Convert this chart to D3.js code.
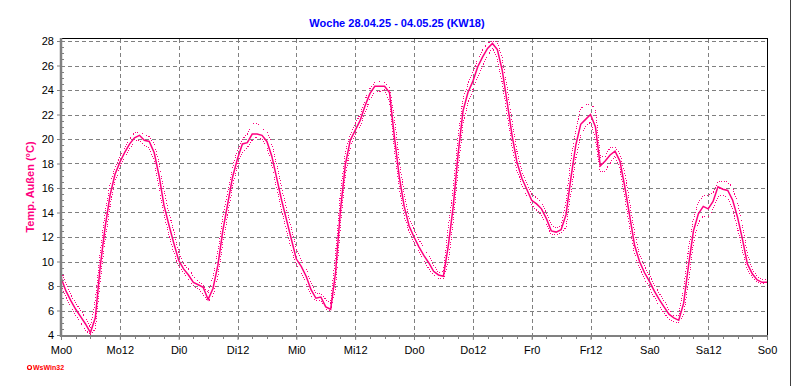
<!DOCTYPE html>
<html>
<head>
<meta charset="utf-8">
<script src="https://cdn.jsdelivr.net/npm/d3@7"></script>
<style>
  body { margin: 0; background: #fff; }
  svg { display: block; font-family: Arial, 'Liberation Sans', sans-serif; }
</style>
</head>
<body>
<div id="chart"></div>
<script>
// hourly values, Mo 0:00 .. So 0:00
const hours = d3.range(0, 145)

const tempMean = [
  8.7, 7.6, 6.8, 6.1, 5.5, 4.9, 4.2, 5.4, 9.6, 12.8, 15.4, 17.1, 18.1, 18.9, 19.6, 20.1, 20.3, 19.9, 19.8, 18.9, 17.0, 14.6, 13.0, 11.5,
  10.1, 9.4, 8.9, 8.3, 8.1, 7.9, 6.9, 7.8, 9.7, 12.5, 14.7, 16.9, 18.4, 19.6, 19.7, 20.4, 20.4, 20.3, 19.8, 18.6, 16.8, 15.0, 13.4, 11.8,
  10.2, 9.6, 8.8, 7.7, 7.0, 7.1, 6.3, 6.1, 9.1, 14.2, 17.9, 19.9, 20.7, 21.5, 22.7, 23.7, 24.3, 24.3, 24.3, 23.8, 20.2, 16.9, 14.5, 12.9,
  12.0, 11.2, 10.5, 9.9, 9.2, 8.9, 8.8, 11.3, 14.5, 18.8, 22.3, 23.8, 24.7, 25.9, 26.7, 27.4, 27.8, 27.3, 25.6, 23.0, 20.3, 18.1, 16.8, 15.9,
  15.0, 14.7, 14.3, 13.5, 12.5, 12.4, 12.6, 13.8, 16.8, 19.5, 21.2, 21.6, 22.0, 21.0, 17.8, 18.2, 18.7, 19.0, 18.2, 16.1, 13.7, 11.3, 10.0, 9.1,
  8.4, 7.6, 6.9, 6.3, 5.7, 5.4, 5.2, 6.6, 9.7, 12.5, 13.9, 14.5, 14.3, 14.9, 16.1, 15.9, 15.8, 15.0, 13.6, 11.8, 9.8, 9.0, 8.5, 8.3,
  8.3
]

const tempMax = [
  9.3, 8.2, 7.3, 6.6, 6.0, 5.4, 4.6, 6.8, 10.8, 13.9, 16.3, 17.7, 18.5, 19.3, 20.0, 20.5, 20.6, 20.3, 20.2, 19.6, 18.0, 15.8, 14.0, 12.5,
  10.8, 9.8, 9.4, 8.8, 8.4, 8.1, 7.4, 8.8, 10.8, 13.6, 15.7, 17.7, 19.1, 20.0, 20.4, 21.2, 21.3, 20.9, 20.6, 19.6, 17.9, 16.0, 14.3, 12.7,
  11.0, 10.1, 9.4, 8.3, 7.4, 7.4, 6.9, 6.6, 10.6, 15.6, 18.9, 20.4, 21.2, 22.0, 23.2, 24.1, 24.6, 24.7, 24.6, 24.2, 21.8, 18.2, 15.5, 13.6,
  12.6, 11.8, 11.1, 10.5, 9.7, 9.1, 9.2, 12.8, 16.0, 20.2, 23.3, 24.5, 25.4, 26.5, 27.3, 27.8, 28.0, 27.9, 26.6, 24.2, 21.5, 19.0, 17.4, 16.4,
  15.5, 15.2, 14.8, 14.0, 13.0, 12.7, 12.9, 14.8, 18.3, 20.7, 22.5, 22.8, 22.8, 22.5, 18.5, 18.6, 19.3, 19.3, 18.8, 17.2, 14.8, 12.3, 10.6, 9.6,
  8.9, 8.1, 7.4, 6.8, 6.1, 5.6, 5.6, 7.9, 11.0, 13.5, 14.8, 15.4, 15.4, 15.6, 16.5, 16.5, 16.5, 16.0, 14.8, 13.0, 10.6, 9.4, 8.8, 8.5,
  8.5
]

const tempMin = [
  8.2, 7.1, 6.3, 5.6, 5.0, 4.4, 4.0, 4.5, 8.4, 11.8, 14.5, 16.5, 17.7, 18.5, 19.2, 19.8, 19.9, 19.5, 19.3, 18.2, 16.0, 13.8, 12.2, 10.7,
  9.6, 9.1, 8.5, 8.0, 7.8, 7.3, 6.7, 7.2, 8.8, 11.5, 13.8, 16.1, 17.9, 18.9, 19.3, 19.9, 20.2, 20.0, 19.3, 17.9, 16.0, 14.2, 12.6, 11.0,
  9.7, 9.1, 8.3, 7.2, 6.8, 6.8, 6.1, 6.0, 7.9, 12.9, 17.0, 19.3, 20.3, 21.0, 22.2, 23.2, 23.9, 23.9, 24.0, 23.1, 19.2, 16.0, 13.7, 12.4,
  11.6, 10.8, 10.1, 9.4, 8.9, 8.6, 8.6, 10.0, 13.2, 17.5, 21.2, 23.0, 24.0, 25.1, 26.0, 26.8, 27.4, 26.5, 24.6, 22.0, 19.4, 17.4, 16.3, 15.4,
  14.6, 14.2, 13.8, 13.0, 12.2, 12.2, 12.3, 12.8, 15.6, 18.4, 20.3, 21.0, 21.4, 20.0, 17.3, 17.4, 18.0, 18.6, 17.6, 15.2, 12.8, 10.6, 9.5, 8.6,
  7.9, 7.1, 6.4, 5.8, 5.3, 5.1, 5.0, 5.6, 8.4, 11.5, 13.2, 13.7, 13.6, 14.3, 15.3, 15.4, 15.3, 14.2, 12.7, 10.8, 9.3, 8.7, 8.3, 8.2,
  8.3
]

const xTickHours = d3.range(0, 145, 12)
const xTickLabels = ['Mo0', 'Mo12', 'Di0', 'Di12', 'Mi0', 'Mi12', 'Do0', 'Do12', 'Fr0', 'Fr12', 'Sa0', 'Sa12', 'So0']
const yTicks = d3.range(4, 29, 2)

const width = 792
const height = 387
const pink = '#ff0080'
const gridColor = '#808080'

const svg = d3
  .select('#chart')
  .append('svg')
  .attr('width', width)
  .attr('height', height)

const x = d3.scaleLinear().domain([0, 144]).range([61, 767])
const y = d3.scaleLinear().domain([4, 28]).range([335, 41])

// window border on the right
svg.append('line')
  .attr('x1', 790.5).attr('x2', 790.5)
  .attr('y1', 0).attr('y2', 386)
  .attr('stroke', '#404040')

// title
svg.append('text')
  .text('Woche 28.04.25 - 04.05.25 (KW18)')
  .attr('x', 397)
  .attr('y', 27)
  .attr('text-anchor', 'middle')
  .attr('font-size', 11)
  .attr('font-weight', 'bold')
  .attr('fill', '#0000ff')

// grid
const grid = svg.append('g').attr('class', 'grid')
  .attr('stroke', gridColor)
  .attr('stroke-dasharray', '4,3')
  .attr('shape-rendering', 'crispEdges')

grid.selectAll('.hgrid')
  .data(yTicks)
  .enter()
  .append('line')
  .attr('x1', x(0)).attr('x2', x(144))
  .attr('y1', d => Math.round(y(d)) + 0.5)
  .attr('y2', d => Math.round(y(d)) + 0.5)

grid.selectAll('.vgrid')
  .data(xTickHours.slice(1, -1))
  .enter()
  .append('line')
  .attr('x1', d => Math.round(x(d)) + 0.5)
  .attr('x2', d => Math.round(x(d)) + 0.5)
  .attr('y1', 39).attr('y2', 335)

// frame top / right
svg.append('path')
  .attr('d', `M${x(0)},38.5H${x(144) + 0.5}V336`)
  .attr('fill', 'none')
  .attr('stroke', '#000')
  .attr('shape-rendering', 'crispEdges')

// lines
const line = series => d3.line()
  .x((d, i) => x(hours[i]))
  .y(d => y(d))(series)

svg.append('path')
  .attr('d', line(tempMax))
  .attr('fill', 'none')
  .attr('stroke', pink)
  .attr('stroke-width', 1)
  .attr('stroke-dasharray', '1,1.5')
  .attr('shape-rendering', 'crispEdges')

svg.append('path')
  .attr('d', line(tempMin))
  .attr('fill', 'none')
  .attr('stroke', pink)
  .attr('stroke-width', 1)
  .attr('stroke-dasharray', '1,1.5')
  .attr('shape-rendering', 'crispEdges')

svg.append('path')
  .attr('d', line(tempMean))
  .attr('fill', 'none')
  .attr('stroke', pink)
  .attr('stroke-width', 1.5)

// y axis
const yAxis = d3.axisLeft(y).tickValues(yTicks).tickSize(4).tickPadding(3)
const yG = svg.append('g')
  .attr('class', 'axis y-axis')
  .attr('transform', 'translate(' + x(0) + ',0)')
  .call(yAxis)
yG.select('.domain').remove()
yG.selectAll('line').attr('stroke', gridColor)
yG.selectAll('text').attr('font-size', 11).attr('fill', '#000').attr('font-family', 'Arial, Liberation Sans, sans-serif')

// y minor ticks
svg.append('g').selectAll('line')
  .data(d3.range(4, 28.01, 0.5))
  .enter()
  .append('line')
  .attr('x1', x(0)).attr('x2', x(0) + 3)
  .attr('y1', d => Math.round(y(d)) + 0.5)
  .attr('y2', d => Math.round(y(d)) + 0.5)
  .attr('stroke', gridColor)

svg.append('line')
  .attr('x1', x(0)).attr('x2', x(0))
  .attr('y1', 38).attr('y2', 337)
  .attr('stroke', gridColor)
  .attr('stroke-width', 2.5)

// x axis
const xAxis = d3.axisBottom(x)
  .tickValues(xTickHours)
  .tickFormat((d, i) => xTickLabels[i])
  .tickSize(5)
  .tickPadding(6)
const xG = svg.append('g')
  .attr('class', 'axis x-axis')
  .attr('transform', 'translate(0,335)')
  .call(xAxis)
xG.select('.domain').remove()
xG.selectAll('line').attr('stroke', gridColor)
xG.selectAll('text').attr('font-size', 11).attr('fill', '#000').attr('font-family', 'Arial, Liberation Sans, sans-serif')

svg.append('g').selectAll('line')
  .data(d3.range(0, 145, 3))
  .enter()
  .append('line')
  .attr('x1', d => Math.round(x(d)) + 0.5)
  .attr('x2', d => Math.round(x(d)) + 0.5)
  .attr('y1', 335).attr('y2', 339)
  .attr('stroke', gridColor)

svg.append('line')
  .attr('x1', x(0) - 1).attr('x2', x(144) + 1)
  .attr('y1', 336).attr('y2', 336)
  .attr('stroke', gridColor)
  .attr('stroke-width', 2)

// y axis title
svg.append('text')
  .text('Temp. Außen (°C)')
  .attr('transform', 'translate(34,187) rotate(-90)')
  .attr('text-anchor', 'middle')
  .attr('font-size', 11)
  .attr('font-weight', 'bold')
  .attr('fill', pink)

// logo
svg.append('circle')
  .attr('cx', 29.5).attr('cy', 367.5).attr('r', 2)
  .attr('fill', 'none')
  .attr('stroke', '#ff0000')
  .attr('stroke-width', 1.2)
svg.append('text')
  .text('WsWin32')
  .attr('x', 33)
  .attr('y', 370)
  .attr('font-size', 7)
  .attr('font-weight', 'bold')
  .attr('fill', '#ff0000')
</script>
</body>
</html>
